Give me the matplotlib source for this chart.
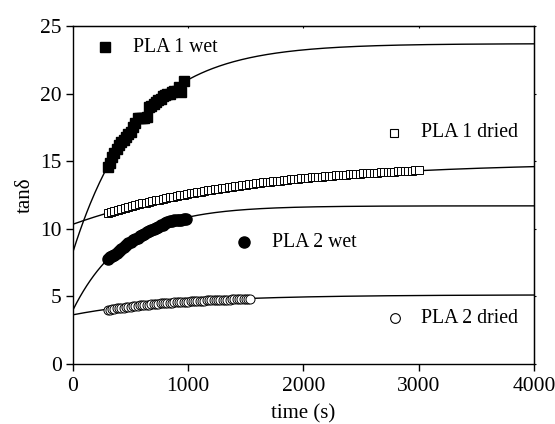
import numpy as np
import matplotlib
matplotlib.use('Agg')
import matplotlib.pyplot as plt

plt.rcParams['font.family'] = ['Liberation Serif', 'DejaVu Serif']

# PLA 1 wet (filled squares)
pla1_wet_t = [300, 320, 340, 360, 380, 400, 420, 440, 460, 480, 500, 520, 540, 560,
              580, 600, 620, 640, 660, 680, 700, 720, 740, 760, 780, 800, 820, 840,
              860, 880, 900, 920, 940, 960]
pla1_wet_y = [14.6, 14.9, 15.3, 15.6, 15.9, 16.2, 16.4, 16.6, 16.8, 17.0, 17.2, 17.5, 17.8, 18.2,
              18.2, 18.2, 18.2, 18.3, 19.0, 19.1, 19.2, 19.4, 19.5, 19.6, 19.8, 19.9, 20.0, 20.0,
              20.1, 20.2, 20.2, 20.5, 20.1, 20.9]

# PLA 1 dried (open squares)
pla1_dried_t = [300, 330, 360, 390, 420, 450, 480, 510, 540, 570, 600, 630, 660, 690, 720,
                750, 780, 810, 840, 870, 900, 930, 960, 990, 1020, 1050, 1080, 1110, 1140,
                1170, 1200, 1230, 1260, 1290, 1320, 1350, 1380, 1410, 1440, 1470, 1500,
                1530, 1560, 1590, 1620, 1650, 1680, 1710, 1740, 1770, 1800, 1830, 1860,
                1890, 1920, 1950, 1980, 2010, 2040, 2070, 2100, 2130, 2160, 2190, 2220,
                2250, 2280, 2310, 2340, 2370, 2400, 2430, 2460, 2490, 2520, 2550, 2580,
                2610, 2640, 2670, 2700, 2730, 2760, 2790, 2820, 2850, 2880, 2910, 2940,
                2970, 3000]
pla1_dried_y = [11.20, 11.27, 11.35, 11.42, 11.49, 11.56, 11.62, 11.69, 11.75, 11.82, 11.88,
                11.94, 12.00, 12.06, 12.12, 12.17, 12.23, 12.28, 12.33, 12.39, 12.44, 12.49,
                12.53, 12.58, 12.63, 12.68, 12.72, 12.76, 12.81, 12.85, 12.89, 12.93, 12.97,
                13.01, 13.05, 13.09, 13.12, 13.16, 13.20, 13.23, 13.27, 13.30, 13.33, 13.36,
                13.39, 13.43, 13.46, 13.49, 13.51, 13.54, 13.57, 13.60, 13.62, 13.65, 13.68,
                13.70, 13.73, 13.75, 13.77, 13.80, 13.82, 13.84, 13.86, 13.89, 13.91, 13.93,
                13.95, 13.97, 13.99, 14.01, 14.03, 14.04, 14.06, 14.08, 14.10, 14.11, 14.13,
                14.15, 14.16, 14.18, 14.19, 14.21, 14.22, 14.24, 14.25, 14.26, 14.28, 14.29,
                14.30, 14.32, 14.33]

# PLA 2 wet (filled circles)
pla2_wet_t = [300, 320, 340, 360, 380, 400, 420, 440, 460, 480, 500, 520, 540, 560, 580,
              600, 620, 640, 660, 680, 700, 720, 740, 760, 780, 800, 820, 840, 860, 880,
              900, 920, 940, 960, 980]
pla2_wet_y = [7.80, 7.90, 8.00, 8.10, 8.20, 8.35, 8.50, 8.65, 8.80, 8.92, 9.05, 9.15, 9.25,
              9.35, 9.45, 9.55, 9.65, 9.75, 9.85, 9.93, 10.00, 10.08, 10.15, 10.25, 10.32,
              10.40, 10.48, 10.55, 10.60, 10.62, 10.63, 10.65, 10.68, 10.70, 10.72]

# PLA 2 dried (open circles)
pla2_dried_t = [300, 320, 340, 360, 380, 400, 420, 440, 460, 480, 500, 520, 540, 560, 580,
                600, 620, 640, 660, 680, 700, 720, 740, 760, 780, 800, 820, 840, 860, 880,
                900, 920, 940, 960, 980, 1000, 1020, 1040, 1060, 1080, 1100, 1120, 1140,
                1160, 1180, 1200, 1220, 1240, 1260, 1280, 1300, 1320, 1340, 1360, 1380,
                1400, 1420, 1440, 1460, 1480, 1500, 1520, 1540]
pla2_dried_y = [4.00, 4.03, 4.06, 4.08, 4.11, 4.13, 4.16, 4.18, 4.20, 4.23, 4.25, 4.27, 4.29,
                4.31, 4.33, 4.35, 4.36, 4.38, 4.40, 4.41, 4.43, 4.45, 4.46, 4.48, 4.49, 4.50,
                4.52, 4.53, 4.54, 4.56, 4.57, 4.58, 4.59, 4.60, 4.61, 4.62, 4.64, 4.65, 4.65,
                4.66, 4.67, 4.68, 4.69, 4.70, 4.71, 4.71, 4.72, 4.73, 4.74, 4.74, 4.75, 4.76,
                4.76, 4.77, 4.78, 4.78, 4.79, 4.79, 4.80, 4.80, 4.81, 4.81, 4.82]

# fitted curves: y = a - b * exp(-t / tau)
fit_a = [23.7, 14.92, 11.7, 5.12]
fit_b = [15.4, 4.58, 7.7, 1.48]
fit_tau = [570, 1500, 450, 900]

fig = plt.figure(figsize=(5.55, 4.24), dpi=100)
ax = fig.add_axes([0.1315, 0.1415, 0.8305, 0.797])

t_fit = np.linspace(0, 4000, 400)
for a, b, tau in zip(fit_a, fit_b, fit_tau):
    ax.plot(t_fit, a - b * np.exp(-t_fit / tau), color='black', lw=1.0, zorder=2)

ax.plot(pla1_wet_t, pla1_wet_y, 's', color='black', ms=7, zorder=3)
ax.plot(pla1_dried_t, pla1_dried_y, 's', mfc='white', mec='black', mew=0.7, ms=5.5, zorder=3)
ax.plot(pla2_wet_t, pla2_wet_y, 'o', color='black', ms=8, zorder=3)
ax.plot(pla2_dried_t, pla2_dried_y, 'o', mfc='white', mec='black', mew=0.7, ms=6.5, zorder=3)

# in-plot labels
fs = 14.2
ax.plot([280], [23.45], 's', color='black', ms=7)
ax.text(520, 23.45, 'PLA 1 wet', fontsize=fs, va='center')
ax.plot([2785], [17.1], 's', mfc='white', mec='black', mew=0.8, ms=6)
ax.text(3020, 17.1, 'PLA 1 dried', fontsize=fs, va='center')
ax.plot([1484], [9.0], 'o', color='black', ms=8)
ax.text(1727, 9.0, 'PLA 2 wet', fontsize=fs, va='center')
ax.plot([2794], [3.4], 'o', mfc='white', mec='black', mew=0.8, ms=7)
ax.text(3020, 3.4, 'PLA 2 dried', fontsize=fs, va='center')

ax.set_xlim(0, 4000)
ax.set_ylim(0, 25)
ax.set_xticks([0, 1000, 2000, 3000, 4000])
ax.set_yticks([0, 5, 10, 15, 20, 25])
ax.tick_params(direction='out', length=5, width=1, labelsize=15.5, pad=3)
ax.tick_params(axis='x', pad=4.5)
ax.set_xlabel('time (s)', fontsize=15, labelpad=6)
ax.set_ylabel('tanδ', fontsize=15, labelpad=4)
for s in ax.spines.values():
    s.set_linewidth(1.0)

# tiny ticks on the top and right frame
top = ax.secondary_xaxis('top')
top.set_xticks([0, 1000, 2000, 3000, 4000])
top.tick_params(direction='in', length=1.5, labeltop=False)
right = ax.secondary_yaxis('right')
right.set_yticks([0, 5, 10, 15, 20, 25])
right.tick_params(direction='out', length=1.5, labelright=False)

fig.savefig('out.png', dpi=100)
